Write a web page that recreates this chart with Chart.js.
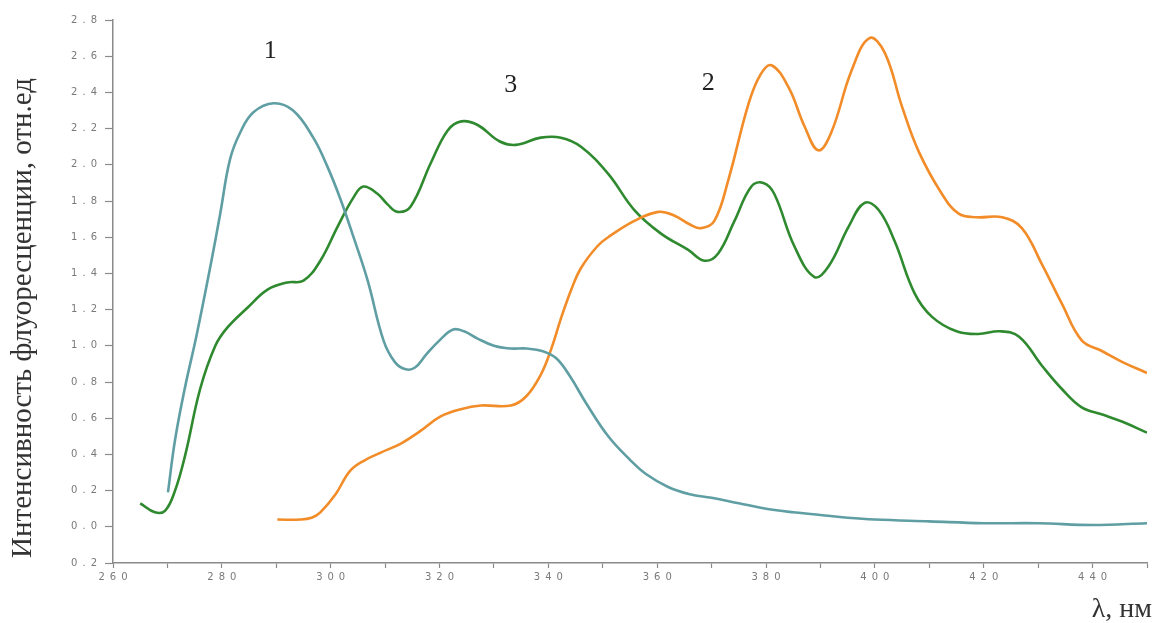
<!DOCTYPE html>
<html>
<head>
<meta charset="utf-8">
<script src="https://cdn.jsdelivr.net/npm/chart.js@4.4.1/dist/chart.umd.min.js"></script>
<style>
  html, body { margin: 0; padding: 0; background: #ffffff; }
  #wrap { position: relative; width: 1157px; height: 623px; }
</style>
</head>
<body>
<div id="wrap"><canvas id="c"></canvas></div>
<script>
// Fluorescence spectra: wavelength (nm) and intensity (rel. units)
const lambda1 = [270.1, 271.4, 273.3, 275.3, 277.9, 279.7, 281.5, 283.4, 285.8, 289.5, 293.1, 296.8, 299.4, 301.8, 304.2, 306.8, 309.7, 311.8, 313.8, 315.5, 317.5, 320, 322.5, 324.5, 327, 330, 333, 336, 339, 341.5, 344, 347, 351, 355, 358, 362, 366, 370, 375, 380, 385, 390, 395, 400, 410, 420, 430, 440, 450];
const curve1 = [0.19, 0.48, 0.78, 1.05, 1.44, 1.73, 2.03, 2.18, 2.29, 2.34, 2.30, 2.15, 1.99, 1.81, 1.60, 1.36, 1.03, 0.91, 0.87, 0.88, 0.95, 1.03, 1.09, 1.08, 1.04, 1.00, 0.985, 0.985, 0.97, 0.93, 0.83, 0.68, 0.50, 0.37, 0.29, 0.22, 0.18, 0.16, 0.13, 0.10, 0.08, 0.065, 0.05, 0.04, 0.03, 0.02, 0.02, 0.01, 0.02];

const lambda2 = [290.2, 294.4, 296.5, 298.1, 300.9, 303.6, 306.4, 309.2, 312.9, 316.5, 320.2, 323.9, 327.6, 333.1, 335.9, 338.6, 340.5, 342.3, 344.2, 346, 349, 351, 355.8, 360.2, 363.1, 366, 368.1, 370.5, 373.1, 376.8, 379, 381, 384.1, 387.1, 389.6, 392, 395.7, 399, 401.8, 405, 408.1, 412.3, 415.4, 418.7, 423.4, 427, 430.7, 434.4, 438, 441.8, 445.5, 450];
const curve2 = [0.04, 0.04, 0.05, 0.08, 0.18, 0.31, 0.37, 0.41, 0.46, 0.53, 0.61, 0.65, 0.67, 0.67, 0.72, 0.84, 0.98, 1.15, 1.31, 1.43, 1.55, 1.60, 1.69, 1.74, 1.72, 1.67, 1.65, 1.69, 1.92, 2.34, 2.50, 2.55, 2.43, 2.21, 2.08, 2.18, 2.52, 2.70, 2.62, 2.32, 2.07, 1.84, 1.73, 1.71, 1.71, 1.65, 1.45, 1.23, 1.03, 0.97, 0.91, 0.85];

const lambda3 = [265, 267.7, 269.6, 271.4, 273.3, 276, 278.8, 281, 284.7, 288.4, 292, 295, 298.1, 301.3, 304.2, 306, 308.6, 310.5, 312.3, 314.7, 318.4, 321.5, 324, 327, 331, 334, 338.6, 342.3, 346, 351, 355.8, 360.7, 365.7, 368.7, 371.2, 374.2, 377.3, 379.5, 381.5, 385.2, 388.9, 391.5, 395.2, 398.1, 400.7, 403.6, 407.3, 410.5, 415, 419, 423, 426.5, 430.7, 434.4, 438, 441.8, 445.5, 450];
const curve3 = [0.13, 0.08, 0.09, 0.20, 0.40, 0.76, 1.00, 1.10, 1.21, 1.31, 1.35, 1.36, 1.47, 1.66, 1.82, 1.88, 1.84, 1.78, 1.74, 1.77, 2.01, 2.19, 2.24, 2.22, 2.13, 2.11, 2.15, 2.15, 2.10, 1.95, 1.75, 1.62, 1.53, 1.47, 1.51, 1.69, 1.88, 1.90, 1.84, 1.55, 1.38, 1.44, 1.66, 1.79, 1.75, 1.58, 1.29, 1.16, 1.08, 1.065, 1.08, 1.05, 0.89, 0.76, 0.66, 0.62, 0.58, 0.52];

// Curve numbers placed in data coordinates
const curveNames = ['1', '2', '3'];
const nameLambda = [288.9, 369.4, 333.1];
const nameValue = [2.63, 2.45, 2.44];

const yTitle = 'Интенсивность флуоресценции, отн.ед';
const xTitle = 'λ, нм';

const colors = ['#5f9ea3', '#f28c28', '#2f8a2f'];

function pts(xs, ys) { return xs.map((x, i) => ({ x: x, y: ys[i] })); }

// Spread the characters of a tick label like "2 . 8"
function spaced(s) { return s.split('').join('\u2002'); }

const textPlugin = {
  id: 'texts',
  afterDraw(chart) {
    const ctx = chart.ctx;
    const xs = chart.scales.x, ys = chart.scales.y;
    ctx.save();
    ctx.fillStyle = '#222';
    ctx.font = '26px "Liberation Serif", "Times New Roman", serif';
    ctx.textAlign = 'center';
    ctx.textBaseline = 'middle';
    curveNames.forEach((n, i) => {
      ctx.fillText(n, xs.getPixelForValue(nameLambda[i]), ys.getPixelForValue(nameValue[i]));
    });
    // axis titles
    ctx.font = '29px "Liberation Serif", "Times New Roman", serif';
    ctx.fillStyle = '#333';
    ctx.save();
    ctx.translate(23, 318);
    ctx.rotate(-Math.PI / 2);
    ctx.textAlign = 'center';
    ctx.textBaseline = 'middle';
    ctx.fillText(yTitle, 0, 0);
    ctx.restore();
    ctx.textAlign = 'right';
    ctx.textBaseline = 'alphabetic';
    ctx.font = '28px "Liberation Serif", "Times New Roman", serif';
    ctx.fillText(xTitle, 1152, 617);
    ctx.restore();
  }
};

const tickFont = { family: 'DejaVu Sans', size: 10 };

new Chart(document.getElementById('c'), {
  type: 'line',
  data: {
    datasets: [
      { data: pts(lambda1, curve1), borderColor: colors[0] },
      { data: pts(lambda2, curve2), borderColor: colors[1] },
      { data: pts(lambda3, curve3), borderColor: colors[2] }
    ].map(d => Object.assign(d, {
      borderWidth: 2.6, pointRadius: 0, fill: false, tension: 0.4
    }))
  },
  options: {
    responsive: true,
    maintainAspectRatio: false,
    animation: false,
    layout: { padding: { top: 20, right: 10, left: 0, bottom: 0 } },
    plugins: { legend: { display: false }, tooltip: { enabled: false } },
    scales: {
      x: {
        type: 'linear', min: 260, max: 450,
        border: { color: '#8a8a8a', width: 1.5 },
        grid: { drawOnChartArea: false, tickLength: 5, color: '#8a8a8a', tickWidth: 1.2 },
        ticks: {
          stepSize: 10, autoSkip: false, maxRotation: 0, padding: 3,
          color: '#7a7a7a', font: tickFont,
          callback: v => (v % 20 === 0 ? spaced(String(v)) : '')
        },
        afterFit: s => { s.height = 60; }
      },
      y: {
        type: 'linear', min: -0.2, max: 2.8,
        border: { color: '#8a8a8a', width: 1.5 },
        grid: { drawOnChartArea: false, tickLength: 8, color: '#8a8a8a', tickWidth: 1.2 },
        ticks: {
          stepSize: 0.2, autoSkip: false, padding: 8,
          color: '#7a7a7a', font: tickFont,
          callback: v => spaced(Math.abs(v).toFixed(1))
        },
        afterFit: s => { s.width = 113; }
      }
    }
  },
  plugins: [textPlugin]
});
</script>
</body>
</html>
